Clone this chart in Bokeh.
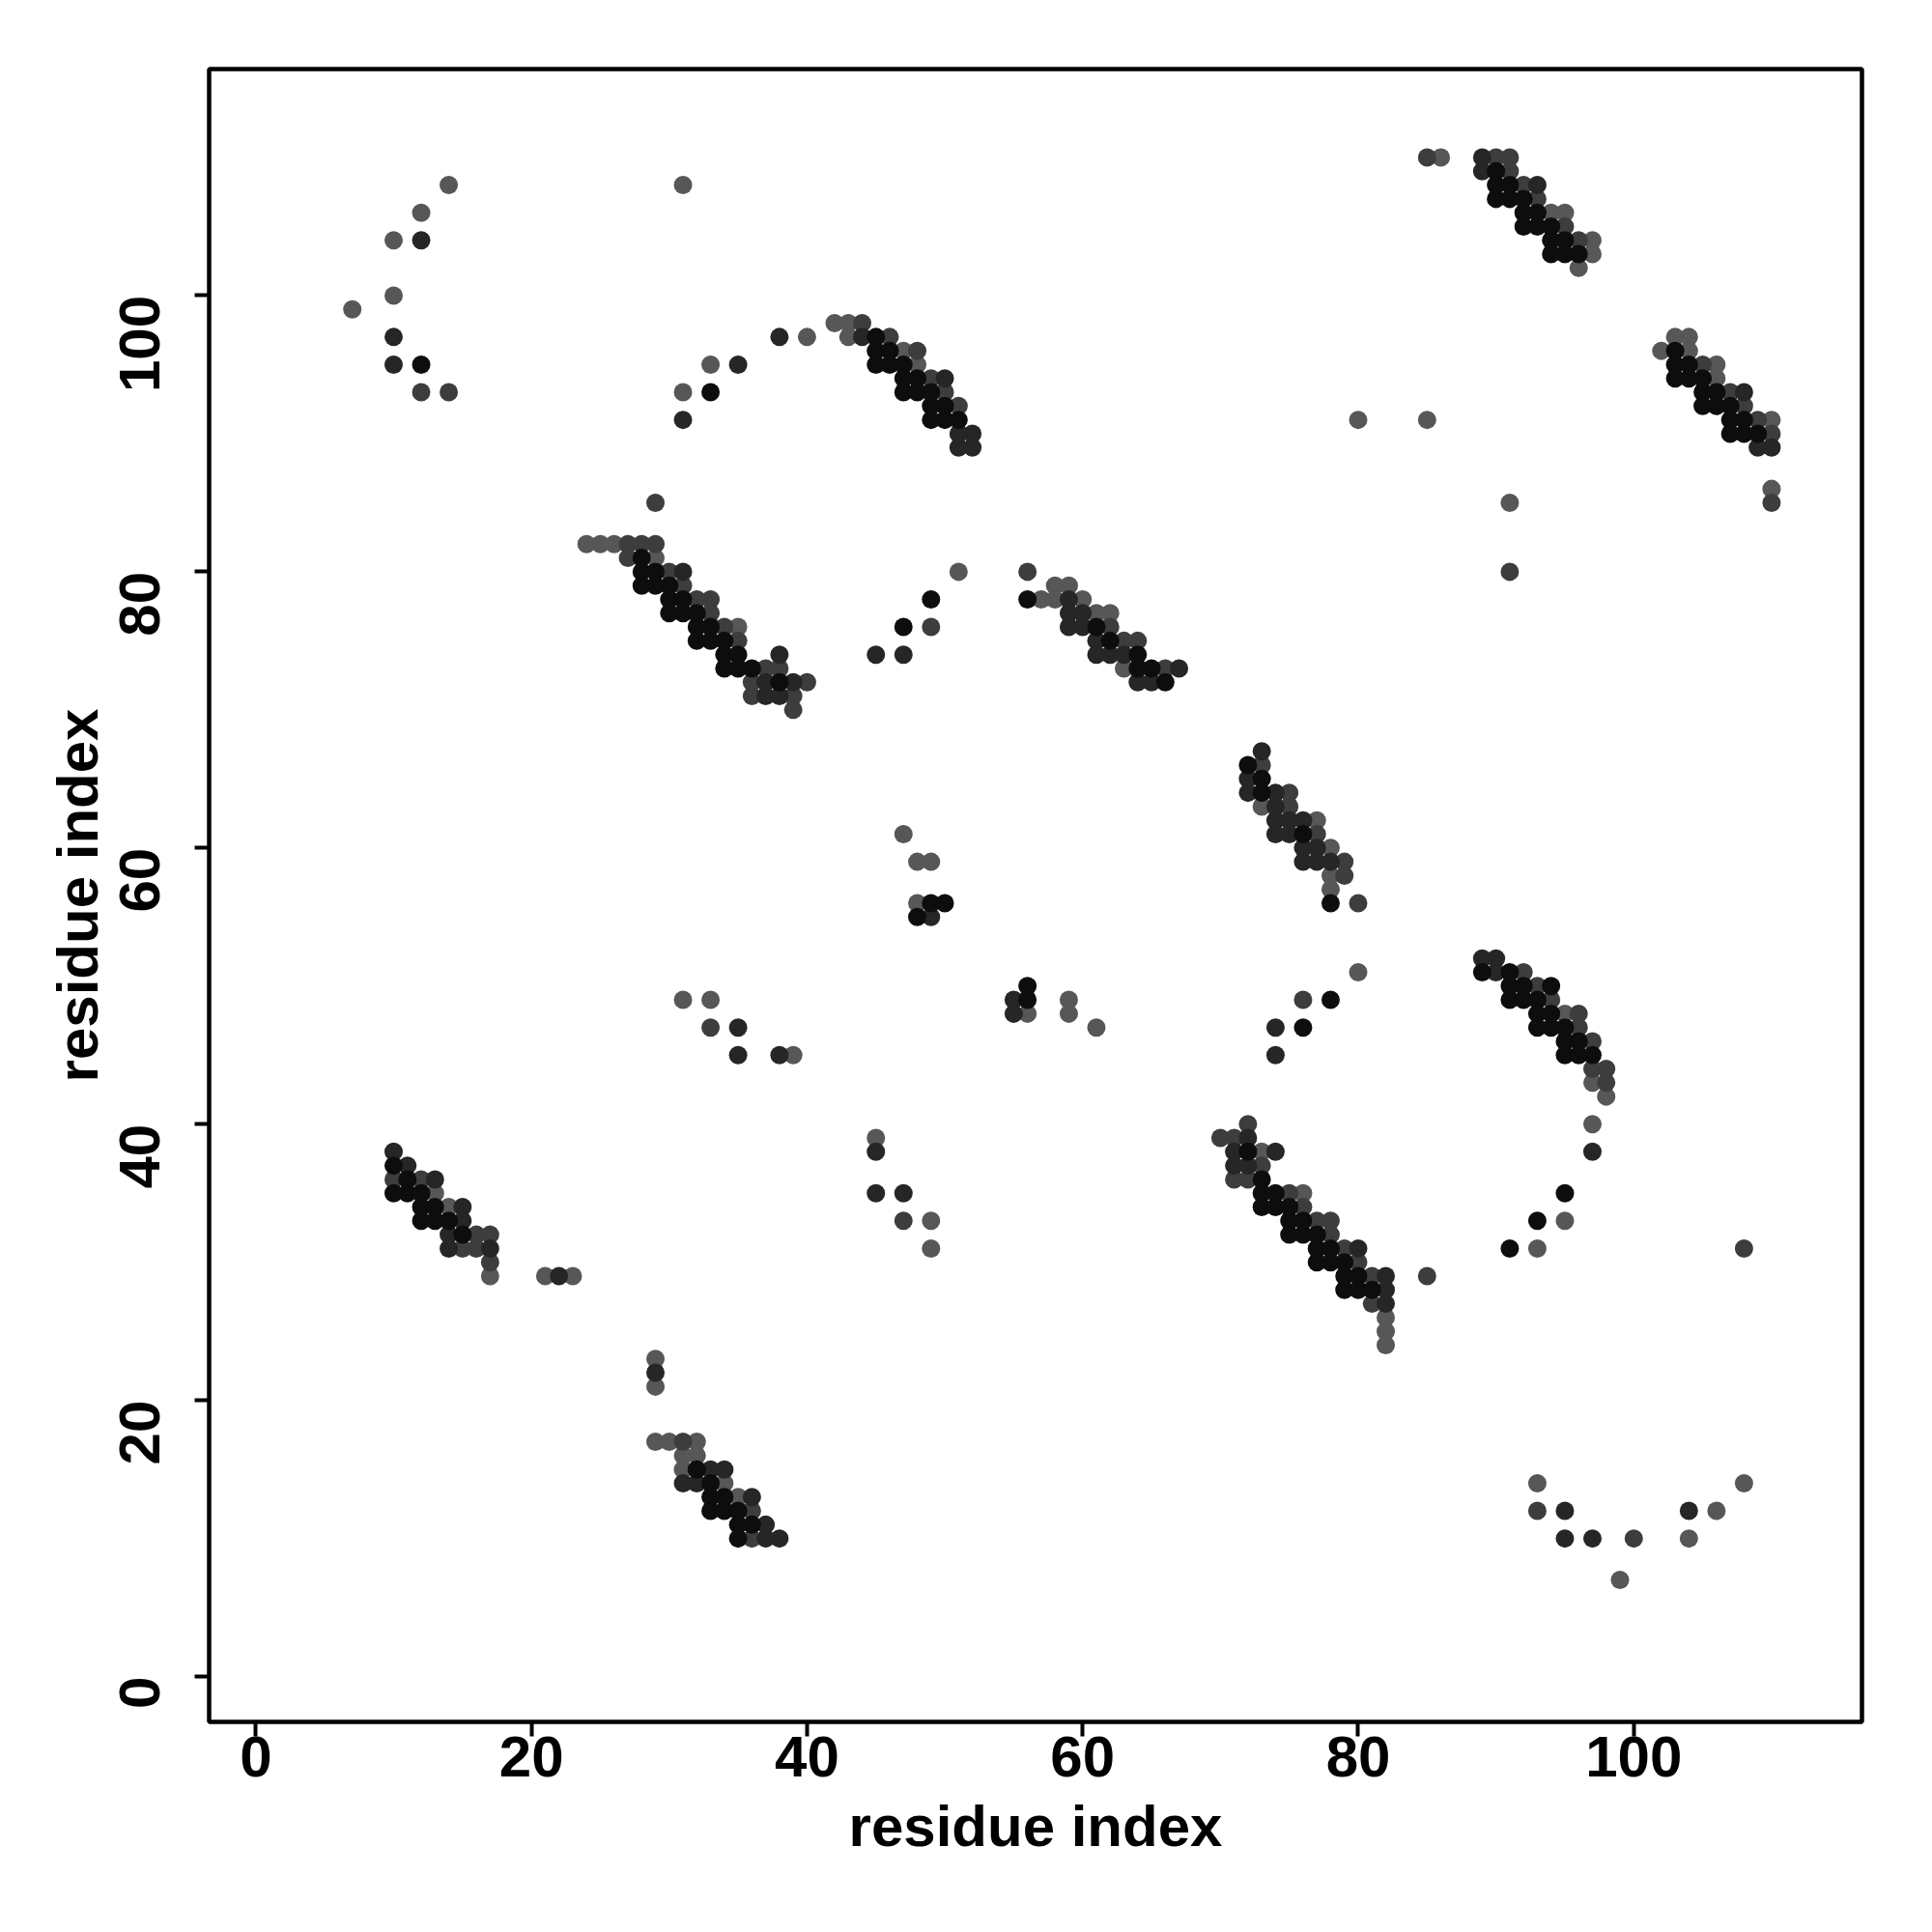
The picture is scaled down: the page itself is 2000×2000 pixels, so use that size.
import math
from bokeh.plotting import figure
from bokeh.models import Range1d, FixedTicker
from bokeh.embed import file_html
from bokeh.resources import INLINE

# contact points (residue i, residue j), grouped by grey level
pts_light = [(14,108),(12,106),(10,104),(10,100),(7,99),
    (31,108),(42,98),(43,98),(40,97),(43,97),(47,96),(48,95),(33,95),(31,93),
    (24,82),(25,82),(26,82),(29,81),(35,76),
    (51,80),(58,79),(59,79),(57,78),(58,78),(60,78),(61,77),(62,77),(63,73),
    (86,110),(94,106),(95,106),(97,104),(97,103),(96,102),(103,97),(104,97),(102,96),(104,96),
    (106,95),(106,94),(110,91),(110,86),(85,91),(91,85),(80,91),
    (47,61),(48,59),(49,59),(48,56),(73,63),(77,62),(78,60),(78,58),(78,57),(80,51),(59,49),
    (56,48),(59,48),(61,47),
    (31,49),(33,49),(39,45),
    (95,48),(97,43),(98,42),(97,40),(95,33),(93,31),
    (13,35),(14,34),(17,29),(21,29),(23,29),
    (45,39),(49,33),(49,31),(73,38),(76,35),(82,26),(82,25),(82,24),
    (29,23),(29,21),(29,17),(30,17),(32,17),(31,16),(32,16),(31,15),(34,14),(35,13),
    (93,14),(108,14),(106,12),(104,10),(99,7)]

pts_mid = [(12,93),(14,93),
    (44,98),(46,97),(48,96),(49,94),(50,93),(51,92),
    (29,85),(27,82),(28,82),(29,82),(27,81),(30,80),(31,79),(32,78),(33,78),(33,77),(34,76),
    (35,75),(37,73),(38,73),(36,72),(40,72),(36,71),(39,71),(39,70),
    (56,80),(49,76),(62,76),(63,75),(64,75),(66,73),
    (85,110),(90,110),(91,110),(91,109),(92,108),(93,107),(95,105),(96,104),(105,95),(107,93),
    (108,92),(109,91),(110,90),(110,85),(91,80),
    (73,66),(75,64),(75,63),(77,61),(79,59),(79,58),(80,56),(76,49),
    (33,47),
    (92,51),(93,50),(94,49),(96,48),(96,47),(97,46),(97,44),(98,44),(98,43),(108,31),
    (10,36),(12,36),(16,32),(17,32),(15,31),(16,31),(17,30),
    (47,33),(72,40),(70,39),(71,39),(73,37),(71,36),(72,36),(75,35),(76,34),(77,33),(78,33),
    (78,32),(79,31),(80,30),(81,29),(81,27),(85,29),
    (31,17),(36,12),(36,10),
    (93,12),(100,10)]

pts_dark = [(12,104),(10,97),(10,95),
    (38,97),(44,97),(35,95),(50,94),(31,91),(51,90),(52,90),(51,89),(52,89),
    (31,80),(38,74),(37,72),(39,72),(37,71),(38,71),
    (59,78),(59,77),(60,77),(59,76),(60,76),(45,74),(47,74),(61,75),(61,74),(62,74),(63,74),
    (67,73),(64,72),(65,72),
    (89,110),(89,109),(93,108),(109,89),(110,89),(108,93),
    (49,55),(73,67),(72,65),(72,64),(74,64),(74,63),(74,62),(75,62),(76,62),(74,61),(75,61),
    (76,60),(77,60),(76,59),(77,59),(78,59),(55,49),(55,48),(74,47),(74,45),
    (35,47),(35,45),(38,45),
    (89,52),(90,52),(90,51),(97,38),
    (10,38),(11,37),(13,36),(15,34),(15,33),(14,32),(14,31),(17,31),(22,29),
    (45,38),(45,35),(47,35),(72,39),(71,38),(74,38),(71,37),(72,37),(80,31),(82,29),(82,28),(82,27),
    (29,22),(33,15),(34,15),(31,14),(32,14),(36,13),(37,11),(37,10),(38,10),
    (95,12),(104,12),(95,10),(97,10)]

pts_black = [(12,95),
    (45,97),(45,96),(46,96),(45,95),(46,95),(47,95),(47,94),(48,94),(33,93),(47,93),(48,93),
    (49,93),(49,92),(50,92),(49,91),(50,91),(51,91),
    (28,81),(28,80),(29,80),(28,79),(29,79),(30,79),(30,78),(31,78),(30,77),(31,77),(32,77),
    (32,76),(33,76),(32,75),(33,75),(34,75),(34,74),(35,74),(34,73),(35,73),(36,73),(38,72),
    (49,78),(56,78),(47,76),(61,76),(62,75),(64,74),(64,73),(65,73),(66,72),
    (90,109),(90,108),(91,108),(90,107),(91,107),(92,107),(92,106),(93,106),(92,105),(93,105),
    (94,105),(94,104),(95,104),(94,103),(95,103),(96,103),(103,96),(103,95),(104,95),(103,94),
    (104,94),(105,94),(105,93),(106,93),(105,92),(106,92),(107,92),(107,91),(108,91),(107,90),
    (108,90),(109,90),
    (49,56),(50,56),(48,55),(72,66),(73,65),(73,64),(76,61),(78,56),(56,50),(56,49),(78,49),(76,47),
    (89,51),(91,51),(91,50),(92,50),(94,50),(91,49),(92,49),(93,49),(93,48),(94,48),(93,47),
    (94,47),(95,47),(95,46),(96,46),(95,45),(96,45),(97,45),(95,35),(93,33),(91,31),
    (10,37),(11,36),(10,35),(11,35),(12,35),(12,34),(13,34),(12,33),(13,33),(14,33),(15,32),
    (72,38),(73,36),(73,35),(74,35),(73,34),(74,34),(75,34),(75,33),(76,33),(75,32),(76,32),
    (77,32),(77,31),(78,31),(77,30),(78,30),(79,30),(79,29),(80,29),(79,28),(80,28),(81,28),
    (32,15),(33,14),(33,13),(34,13),(33,12),(34,12),(35,12),(35,11),(36,11),(35,10)]

tick_values = [0, 20, 40, 60, 80, 100]
axis_title = "residue index"

groups = [(pts_light, "#575757"), (pts_mid, "#3d3d3d"), (pts_dark, "#262626"), (pts_black, "#0d0d0d")]

p = figure(width=1984, height=1984, output_backend="svg", toolbar_location=None,
           x_range=Range1d(-3.39, 116.56), y_range=Range1d(-3.28, 116.4),
           min_border_left=216, min_border_right=57, min_border_top=71, min_border_bottom=202)
p.xgrid.visible = False
p.ygrid.visible = False
p.outline_line_color = "black"
p.outline_line_width = 4.5
p.background_fill_color = "white"

for pts, col in groups:
    xs = [a for a, b in pts]
    ys = [b for a, b in pts]
    p.scatter(xs, ys, marker="circle", size=19, fill_color=col, line_color=None)

for ax in (p.xaxis[0], p.yaxis[0]):
    ax.ticker = FixedTicker(ticks=tick_values)
    ax.minor_tick_line_color = None
    ax.axis_line_color = None
    ax.major_tick_line_color = "black"
    ax.major_tick_line_width = 4
    ax.major_tick_out = 15
    ax.major_tick_in = 0
    ax.major_label_text_font = "Liberation Sans"
    ax.major_label_text_font_style = "bold"
    ax.major_label_text_font_size = "60px"
    ax.major_label_text_color = "black"
    ax.axis_label = axis_title
    ax.axis_label_text_font = "Liberation Sans"
    ax.axis_label_text_font_style = "bold"
    ax.axis_label_text_font_size = "60px"
    ax.axis_label_text_color = "black"

p.xaxis[0].major_label_standoff = 0
p.xaxis[0].axis_label_standoff = 15
p.yaxis[0].major_label_orientation = math.pi / 2
p.yaxis[0].major_label_standoff = 57
p.yaxis[0].axis_label_standoff = -13

open("out.html", "w").write(file_html(p, INLINE))
